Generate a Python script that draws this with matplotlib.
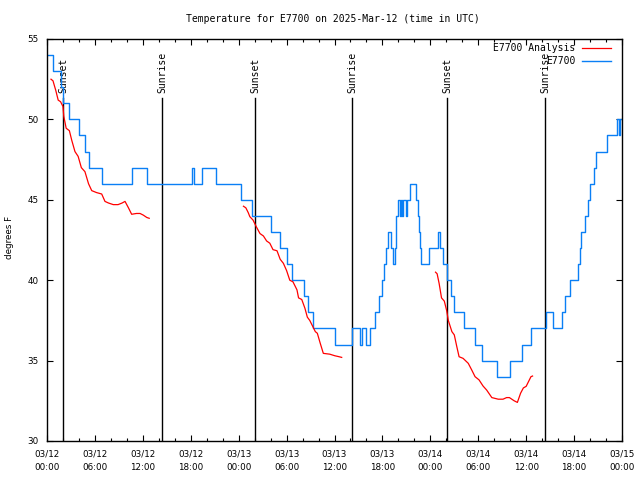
import numpy as np
import matplotlib
matplotlib.use("Agg")
from matplotlib import pyplot as plt
import matplotlib.dates as mdates
from datetime import datetime, timedelta

# hours after 2025-03-12 00:00 UTC
start = datetime(2025, 3, 12)

# observed E7700 (integer degrees, value holds until next change)
obs_hours = [0.0, 0.8, 1.75, 2.0, 2.8, 4.0, 4.75, 5.3, 6.9, 10.7, 12.5, 18.1, 18.4,
             19.4, 21.2, 24.25, 25.7, 28.0, 29.2, 30.0, 30.7, 32.2, 32.7, 33.3, 36.05,
             38.15, 39.2, 39.5, 40.0, 40.5, 41.1, 41.6, 42.0, 42.2, 42.4, 42.65, 43.1,
             43.3, 43.6, 43.75, 43.95, 44.15, 44.3, 44.45, 44.6, 44.9, 45.1, 45.4, 46.2,
             46.4, 46.55, 46.7, 46.85, 47.8, 49.0, 49.15, 49.6, 50.1, 50.6, 51.0, 52.2,
             53.6, 54.5, 56.3, 58.0, 59.5, 60.65, 62.5, 63.4, 64.5, 64.9, 65.5, 66.5,
             66.7, 66.9, 67.4, 67.7, 68.0, 68.5, 68.7, 70.1, 71.4, 71.6, 71.7, 72.0]
obs_temps = [54, 53, 52, 51, 50, 49, 48, 47, 46, 47, 46, 47, 46,
             47, 46, 45, 44, 43, 42, 41, 40, 39, 38, 37, 36,
             37, 36, 37, 36, 37, 38, 39, 40, 41, 42, 43, 42,
             41, 42, 44, 45, 44, 45, 44, 45, 44, 45, 46, 45,
             44, 43, 42, 41, 42, 43, 42, 41, 40, 39, 38, 37,
             36, 35, 34, 35, 36, 37, 38, 37, 38, 39, 40, 41,
             42, 43, 44, 45, 46, 47, 48, 49, 50, 49, 50, 50]

# analysis (gaps between runs are NaN)
ana_hours = [0.5, 0.75, 1.1, 1.4, 1.7, 2.0, 2.1, 2.4, 2.8, 3.1, 3.5, 3.9, 4.3, 4.75,
             5.2, 5.6, 6.2, 6.85, 7.26, 7.7, 8.3, 8.9, 9.4, 9.77, 10.2, 10.6, 11.2,
             11.65, 12.05, 12.5, 12.8, 18.0,
             24.6, 24.9, 25.2, 25.4, 25.8, 26.2, 26.67, 27.1, 27.5, 27.9, 28.3, 28.8,
             29.2, 29.6, 30.0, 30.4, 30.8, 31.3, 31.5, 31.9, 32.3, 32.6, 32.9, 33.3,
             33.6, 33.85, 34.2, 34.6, 35.4, 36.05, 36.5, 36.9, 42.0,
             48.65, 48.85, 49.1, 49.4, 49.75, 50.05, 50.25, 50.7, 51.0, 51.3, 51.6,
             52.1, 52.75, 53.2, 53.6, 54.1, 54.6, 55.05, 55.7, 56.5, 57.1, 57.55, 57.9,
             58.5, 58.9, 59.3, 59.65, 60.0, 60.3, 60.6, 60.8]
ana_temps = [52.5, 52.4, 51.8, 51.2, 51.1, 50.8, 50.2, 49.45, 49.3, 48.7, 48.0, 47.7, 47.0, 46.75,
             46.0, 45.57, 45.45, 45.36, 44.9, 44.8, 44.7, 44.7, 44.8, 44.9, 44.5, 44.1, 44.15,
             44.15, 44.05, 43.9, 43.85, np.nan,
             44.6, 44.5, 44.2, 43.95, 43.74, 43.33, 42.9, 42.75, 42.44, 42.3, 41.9, 41.83,
             41.3, 41.05, 40.6, 40.0, 39.9, 39.4, 38.9, 38.8, 38.25, 37.7, 37.5, 37.1,
             36.8, 36.7, 36.1, 35.45, 35.4, 35.3, 35.25, 35.2, np.nan,
             40.5, 40.4, 39.8, 38.9, 38.7, 38.1, 37.5, 36.8, 36.6, 35.9, 35.24,
             35.14, 34.83, 34.4, 34.0, 33.8, 33.42, 33.17, 32.7, 32.6, 32.6, 32.7, 32.7,
             32.5, 32.4, 32.97, 33.3, 33.4, 33.7, 34.0, 34.04]

sun_hours = [2.0, 14.4, 26.05, 38.2, 50.1, 62.35]
sun_labels = ["Sunset", "Sunrise", "Sunset", "Sunrise", "Sunset", "Sunrise"]

def to_dt(hours):
    return [start + timedelta(hours=h) for h in hours]

mono = "DejaVu Sans Mono"
fig = plt.figure(figsize=(6.4, 4.8), dpi=100)
ax = fig.add_axes([47/640, 1 - 441/480, 575/640, 402/480])

for h, lab in zip(sun_hours, sun_labels):
    t = start + timedelta(hours=h)
    ax.plot([t, t], [30, 51.3], color="black", lw=1.0, zorder=1)
    ax.text(t, 51.65, lab, rotation=90, ha="center", va="bottom",
            family=mono, fontsize=7, zorder=1)

ax.plot(to_dt(ana_hours), ana_temps, color="#ff0000", lw=0.9, label="E7700 Analysis", zorder=3)
ax.plot(to_dt(obs_hours), obs_temps, color="#0a7ff5", lw=1.0, drawstyle="steps-post",
        label="E7700", zorder=2)

ax.set_xlim(start, start + timedelta(hours=72))
ax.set_ylim(30, 55)
ax.set_yticks(range(30, 56, 5))
ax.xaxis.set_major_locator(mdates.HourLocator(byhour=range(0, 24, 6)))
ax.xaxis.set_minor_locator(mdates.HourLocator(byhour=range(0, 24, 2)))
ax.xaxis.set_major_formatter(mdates.DateFormatter("%m/%d\n%H:%M"))
ax.tick_params(which="both", direction="in", top=True, right=True, labelsize=6.3, width=0.8)
ax.tick_params(which="major", length=4)
ax.tick_params(which="minor", length=2.2)
ax.tick_params(axis="x", pad=6)
ax.tick_params(axis="y", pad=6)
for lbl in ax.get_xticklabels():
    lbl.set_linespacing(1.6)
for s in ax.spines.values():
    s.set_linewidth(1.0)

leg = ax.legend(loc="upper right", bbox_to_anchor=((611 - 47) / 575, 1 - 4 / 402),
                frameon=False, markerfirst=False,
                prop={"family": mono, "size": 7}, handlelength=3.0,
                handletextpad=0.7, labelspacing=0.3, borderaxespad=0, borderpad=0)

fig.text(332.5/640, 1 - 19/480, "Temperature for E7700 on 2025-Mar-12 (time in UTC)",
         ha="center", va="center", family=mono, fontsize=7)
fig.text(10/640, 1 - 237/480, "degrees F", rotation=90, ha="center", va="center", fontsize=6.3)

fig.savefig("out.png", dpi=100)
